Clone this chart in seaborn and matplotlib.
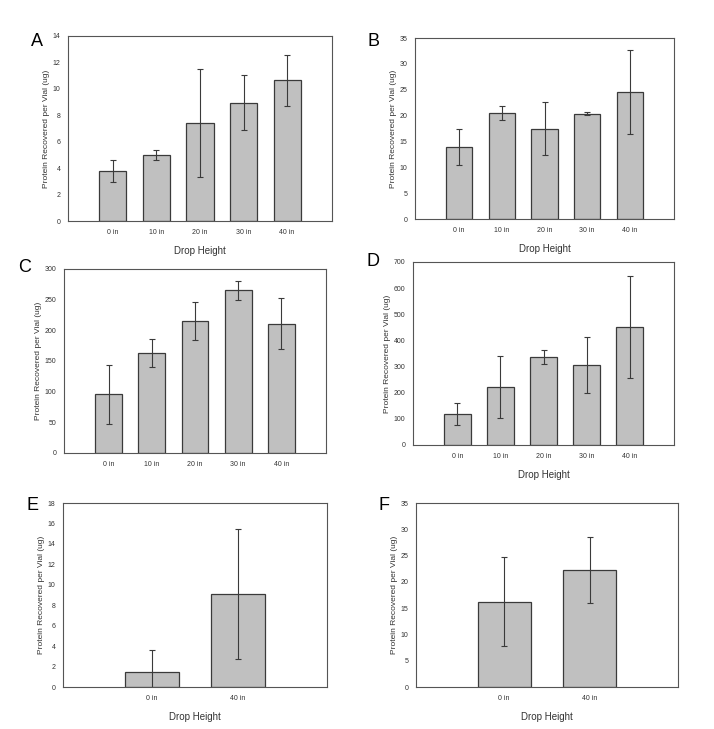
import numpy as np
import pandas as pd
import seaborn as sns
import matplotlib.pyplot as plt

heights5 = ['0 in', '10 in', '20 in', '30 in', '40 in']
heights2 = ['0 in', '40 in']

a_mean = [3.8, 5.0, 7.4, 8.95, 10.65]
a_err = [0.85, 0.35, 4.1, 2.1, 1.95]
b_mean = [14.0, 20.5, 17.5, 20.4, 24.5]
b_err = [3.5, 1.4, 5.2, 0.25, 8.1]
c_mean = [96, 163, 215, 265, 211]
c_err = [48, 23, 31, 15, 41]
d_mean = [120, 222, 338, 307, 452]
d_err = [42, 120, 27, 107, 195]
e_mean = [1.5, 9.1]
e_err = [2.1, 6.4]
f_mean = [16.2, 22.3]
f_err = [8.45, 6.3]

sns.set_theme(style='white')
plt.rcParams['font.family'] = ['Liberation Sans', 'DejaVu Sans']

W, H = 714, 729
fig = plt.figure(figsize=(W / 100, H / 100), dpi=100)

# letter, categories, means, errors, ymax, ystep, axes box px (l, t, r, b), xlabel?, letter pos px
panels = [
    ('A', heights5, a_mean, a_err, 14, 2, (68, 36, 332, 221), True, (31, 42)),
    ('B', heights5, b_mean, b_err, 35, 5, (415, 38, 674, 219), True, (368, 42)),
    ('C', heights5, c_mean, c_err, 300, 50, (64, 269, 326, 453), False, (18, 267)),
    ('D', heights5, d_mean, d_err, 700, 100, (413, 262, 674, 445), True, (367, 262)),
    ('E', heights2, e_mean, e_err, 18, 2, (63, 503, 327, 687), True, (27, 505)),
    ('F', heights2, f_mean, f_err, 35, 5, (416, 503, 678, 687), True, (378, 505)),
]

for letter, cats, means, errs, ymax, ystep, box, show_xlabel, lpos in panels:
    l, t, r, b = box
    ax = fig.add_axes([l / W, 1 - b / H, (r - l) / W, (b - t) / H])
    df = pd.DataFrame({'Drop Height': cats, 'Protein': means})
    sns.barplot(data=df, x='Drop Height', y='Protein', ax=ax, color='#c0c0c0',
                saturation=1, width=0.62, edgecolor='#3a3a3a', linewidth=0.9)
    ax.errorbar(np.arange(len(cats)), means, yerr=errs, fmt='none',
                ecolor='#3a3a3a', elinewidth=0.8, capsize=2.5, capthick=0.8)
    n = len(cats)
    ax.set_xlim(-1.03, n - 1 + 1.03)
    ax.set_ylim(0, ymax)
    ax.set_yticks(np.arange(0, ymax + ystep / 2, ystep))
    ax.tick_params(axis='both', which='both', direction='out', length=2.5, width=0.6,
                   labelsize=5, colors='#333333', pad=3)
    ax.tick_params(axis='x', length=0, pad=6)
    for s in ax.spines.values():
        s.set_color('#555555')
        s.set_linewidth(0.8)
    ax.set_ylabel('Protein Recovered per Vial (ug)', fontsize=6, color='#333333', labelpad=2)
    if show_xlabel:
        ax.set_xlabel('Drop Height', fontsize=7, color='#333333', labelpad=7)
    else:
        ax.set_xlabel('')
    fig.text(lpos[0] / W, 1 - lpos[1] / H, letter, fontsize=13, color='black',
             ha='left', va='center')

fig.savefig('out.png', dpi=100, facecolor='white')
